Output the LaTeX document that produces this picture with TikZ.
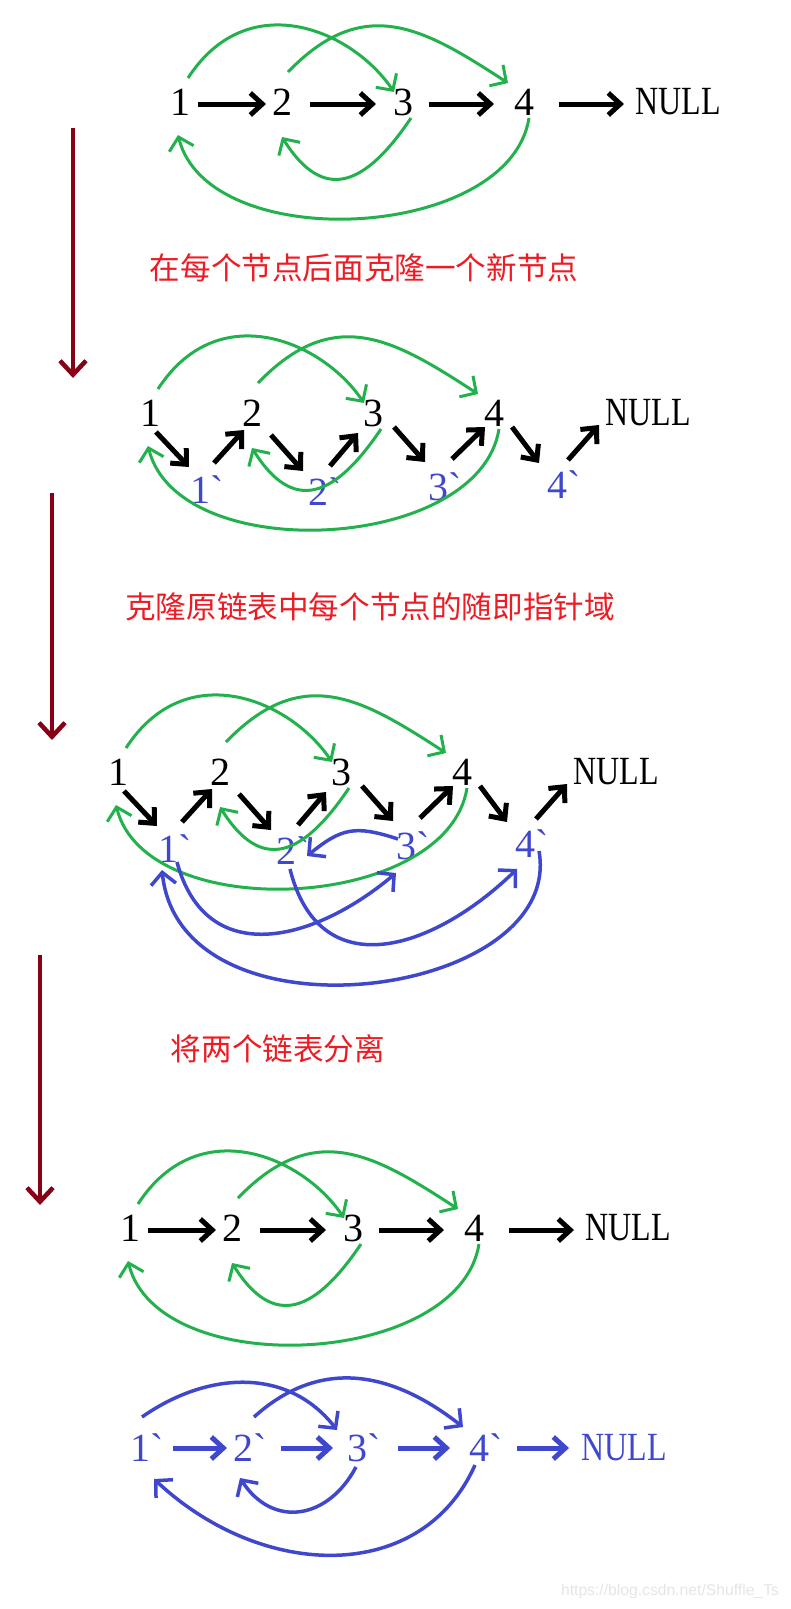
\documentclass[tikz,border=0pt]{standalone}
\usepackage{fontspec}
\setmainfont{Liberation Serif}
\newfontfamily\narrowfont[FakeStretch=0.8]{Liberation Serif}
\newfontfamily\cnfont{Noto Sans CJK SC}
\newfontfamily\urlfont{Liberation Sans}
\usetikzlibrary{arrows.meta}
\definecolor{pgreen}{HTML}{22B14C}
\definecolor{pblue}{HTML}{3F48CC}
\definecolor{pred}{HTML}{ED1C24}
\definecolor{pmaroon}{HTML}{880015}
\newcommand{\clone}[1]{#1\rlap{\textasciigrave}}
\newcommand{\orow}[3]{%
  \begin{scope}[shift={(#2,#3)}]
    \node[num] (#11) at (0,0) {1};
    \node[num] (#12) at (102,0) {2};
    \node[num] (#13) at (223,0) {3};
    \node[num] (#14) at (344,0) {4};
    \node[num] (#1N) at (498,0) {\narrowfont NULL};
  \end{scope}}
\newcommand{\crow}[3]{%
  \begin{scope}[shift={(#2,#3)}]
    \node[num,text=pblue] (#11) at (50,-77) {\clone1};
    \node[num,text=pblue] (#12) at (168,-79) {\clone2};
    \node[num,text=pblue] (#13) at (288,-74) {\clone3};
    \node[num,text=pblue] (#14) at (407,-72) {\clone4};
  \end{scope}}
\newcommand{\nextlinks}[1]{%
  \draw[nxt] ([shift={(18,-2)}]#11.center) -- ([shift={(-16,-2)}]#12.center);
  \draw[nxt] ([shift={(28,-2)}]#12.center) -- ([shift={(-27,-2)}]#13.center);
  \draw[nxt] ([shift={(26,-2)}]#13.center) -- ([shift={(-30,-2)}]#14.center);
  \draw[nxt] ([shift={(35,-2)}]#14.center) -- ([shift={(-54,-2)}]#1N.center);}
\newcommand{\zigzag}[2]{%
  \draw[nxt] ([shift={(6,-19)}]#11.center) -- ([shift={(-11,23)}]#21.center);
  \draw[nxt] ([shift={(14,27)}]#21.center) -- ([shift={(-8,-17)}]#12.center);
  \draw[nxt] ([shift={(19,-22)}]#12.center) -- ([shift={(-15,21)}]#22.center);
  \draw[nxt] ([shift={(12,26)}]#22.center) -- ([shift={(-15,-20)}]#13.center);
  \draw[nxt] ([shift={(21,-14)}]#13.center) -- ([shift={(-13,25)}]#23.center);
  \draw[nxt] ([shift={(14,28)}]#23.center) -- ([shift={(-9,-14)}]#14.center);
  \draw[nxt] ([shift={(18,-14)}]#14.center) -- ([shift={(-18,22)}]#24.center);
  \draw[nxt] ([shift={(11,25)}]#24.center) -- ([shift={(-49,-12)}]#1N.center);}
\newcommand{\randlinks}[1]{%
  \draw[rnd] ([shift={(8,24)}]#11.center) to[out=57,in=124,out distance=110pt,in distance=75pt] ([shift={(-9,10)}]#13.center);
  \draw[rnd] ([shift={(6,30)}]#12.center) to[out=46,in=147,out distance=110pt,in distance=100pt] ([shift={(-16,19)}]#14.center);
  \draw[rnd] ([shift={(8,-16)}]#13.center) to[out=-124,in=-58,distance=80pt] ([shift={(0,-35)}]#12.center);
  \draw[rnd] ([shift={(5,-16)}]#14.center) to[out=-99,in=-76,distance=125pt] ([shift={(-2,-33)}]#11.center);}

\begin{document}
\begin{tikzpicture}[x=1pt,y=1pt,
    num/.style={font=\fontsize{40}{44}\selectfont,inner sep=0pt},
    note/.style={text=pred,font=\cnfont\fontsize{30.6}{34}\selectfont,inner sep=0pt},
    nxt/.style={line width=5pt,-{Straight Barb[length=12pt,width=22pt]}},
    nxb/.style={nxt,pblue},
    rnd/.style={pgreen,line width=3pt,-{Straight Barb[length=12pt,width=25pt]}},
    rbl/.style={rnd,pblue,line width=3.5pt},
    phase/.style={pmaroon,line width=4.5pt,-{Straight Barb[length=14pt,width=26pt]}}]
  \useasboundingbox (0,0) rectangle (791,-1609);

  \orow{a}{180}{-102}
  \nextlinks{a}
  \randlinks{a}

  \coordinate (m1) at (73,-128);
  \coordinate (m1e) at (73,-378);
  \draw[phase] (m1) -- (m1e);
  \node[note] (n1) at (364,-268) {在每个节点后面克隆一个新节点};

  \orow{b}{150}{-413}
  \crow{bc}{150}{-413}
  \zigzag{b}{bc}
  \randlinks{b}

  \coordinate (m2) at (52,-493);
  \coordinate (m2e) at (52,-740);
  \draw[phase] (m2) -- (m2e);
  \node[note] (n2) at (370,-607) {克隆原链表中每个节点的随即指针域};

  \orow{c}{118}{-772}
  \crow{cc}{118}{-772}
  \zigzag{c}{cc}
  \randlinks{c}
  \draw[rbl] ([shift={(-8,7)}]cc3.center) to[out=162,in=39,distance=45pt] ([shift={(21,-5)}]cc2.center);
  \draw[rbl] ([shift={(9,-13)}]cc1.center) to[out=-75,in=-140,distance=110pt] ([shift={(-10,-27)}]cc3.center);
  \draw[rbl] ([shift={(4,-18)}]cc2.center) to[out=-76,in=-136,distance=120pt] ([shift={(-8,-25)}]cc4.center);
  \draw[rbl] ([shift={(14,-7)}]cc4.center) to[out=-80,in=-84,out distance=150pt,in distance=180pt] ([shift={(-6,-21)}]cc1.center);

  \coordinate (m3) at (40,-955);
  \coordinate (m3e) at (40,-1205);
  \draw[phase] (m3) -- (m3e);
  \node[note] (n3) at (278,-1049) {将两个链表分离};

  \orow{d}{130}{-1228}
  \nextlinks{d}
  \randlinks{d}

  \begin{scope}[shift={(140,-1448)}]
    \node[num,text=pblue] (e1) at (0,0) {\clone1};
    \node[num,text=pblue] (e2) at (103,0) {\clone2};
    \node[num,text=pblue] (e3) at (217,0) {\clone3};
    \node[num,text=pblue] (e4) at (339,0) {\clone4};
    \node[num,text=pblue] (eN) at (484,0) {\narrowfont NULL};
  \end{scope}
  \draw[nxb] ([shift={(33,0)}]e1.center) -- ([shift={(-16,0)}]e2.center);
  \draw[nxb] ([shift={(38,0)}]e2.center) -- ([shift={(-24,0)}]e3.center);
  \draw[nxb] ([shift={(41,0)}]e3.center) -- ([shift={(-29,0)}]e4.center);
  \draw[nxb] ([shift={(38,0)}]e4.center) -- ([shift={(-55,0)}]eN.center);
  \draw[rbl] ([shift={(2,31)}]e1.center) to[out=35,in=128,distance=80pt] ([shift={(-20,18)}]e3.center);
  \draw[rbl] ([shift={(11,31)}]e2.center) to[out=42,in=142,distance=90pt] ([shift={(-16,21)}]e4.center);
  \draw[rbl] ([shift={(-1,-19)}]e3.center) to[out=-118,in=-57,distance=60pt] ([shift={(-3,-30)}]e2.center);
  \draw[rbl] ([shift={(-4,-17)}]e4.center) to[out=-114,in=-43,out distance=130pt,in distance=150pt] ([shift={(14,-31)}]e1.center);

  \node[text=black!10,font=\urlfont\fontsize{15.7}{18}\selectfont,inner sep=0pt] (url) at (670,-1591) {https://blog.csdn.net/Shuffle\_Ts};
\end{tikzpicture}
\end{document}
